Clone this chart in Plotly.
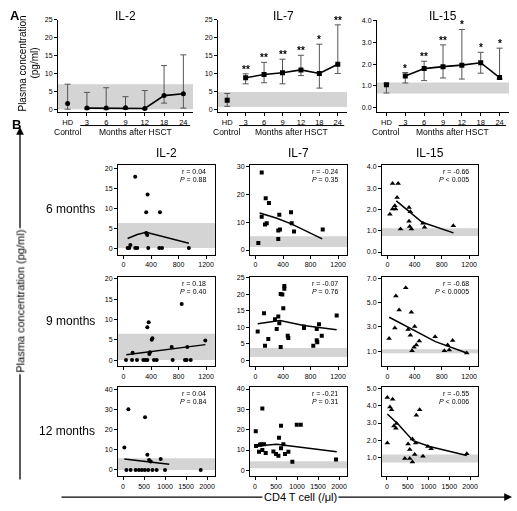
import plotly.graph_objects as go

W, H = 517, 511
FONT = "Arial, Liberation Sans, Helvetica, sans-serif"

# ---------------- Panel A data ----------------
A_LABELS = ["HD", "3", "6", "9", "12", "18", "24"]
IL2_A_MEAN = [1.6, 0.3, 0.3, 0.4, 0.2, 3.8, 4.3]
IL2_A_HI = [7.0, 4.7, 6.0, 3.5, 5.2, 12.2, 15.2]
IL2_A_LO = [0.0, 0.0, 0.0, 0.0, 0.0, 1.7, 0.3]
IL7_A_MEAN = [2.5, 8.8, 9.7, 10.2, 11.0, 10.0, 12.6]
IL7_A_HI = [4.4, 9.9, 13.1, 14.0, 15.1, 18.2, 23.6]
IL7_A_LO = [0.8, 7.1, 7.4, 7.1, 9.4, 5.9, 10.0]
IL15_A_MEAN = [1.05, 1.45, 1.79, 1.88, 1.95, 2.06, 1.38]
IL15_A_HI = [1.10, 1.61, 2.13, 2.88, 3.59, 2.54, 2.73]
IL15_A_LO = [0.67, 1.13, 1.24, 1.36, 1.31, 1.58, 1.31]
IL2_A_STARS = ["", "", "", "", "", "", ""]
IL7_A_STARS = ["", "**", "**", "**", "**", "*", "**"]
IL15_A_STARS = ["", "*", "**", "**", "*", "*", "*"]
IL2_A_BAND = [0, 7.0]
IL7_A_BAND = [0.6, 4.8]
IL15_A_BAND = [0.65, 1.15]

# ---------------- Panel B data ----------------
IL2_6_X = [170, 350, 330, 530, 60, 85, 100, 170, 200, 360, 520, 560, 950, 330, 345]
IL2_6_Y = [18, 13.5, 9, 9, 0, 0, 0.8, 0, 0, 0, 0, 0, 0, 3.8, 3.3]
IL2_6_FIT_X = [60, 200, 330, 950]
IL2_6_FIT_Y = [2.4, 3.4, 4.0, 1.2]

IL2_9_X = [846, 366, 346, 420, 410, 1189, 385, 375, 700, 927, 133,
           36, 124, 196, 288, 317, 346, 443, 482, 715, 894, 918, 977]
IL2_9_Y = [13.8, 9.3, 8.1, 5.4, 5.0, 4.8, 1.95, 1.5, 3.2, 3.2, 1.8,
           0, 0, 0, 0, 0, 0, 0, 0, 0, 0, 0, 0]
IL2_9_FIT_X = [40, 1190]
IL2_9_FIT_Y = [1.3, 3.8]

IL2_12_X = [127, 524, 31, 579, 897, 620, 660,
            80, 180, 300, 380, 450, 520, 600, 700, 800, 1000, 1850]
IL2_12_Y = [30.3, 26.4, 11.2, 7.6, 5.5, 5.0, 4.2,
            0, 0, 0, 0, 0, 0, 0, 0, 0, 0, 0]
IL2_12_FIT_X = [30, 1100]
IL2_12_FIT_Y = [5.5, 2.8]

IL7_6_X = [90, 148, 196, 516, 346, 90, 138, 163, 331, 356, 331, 526, 560, 41, 977]
IL7_6_Y = [27.9, 18.6, 16.9, 13.6, 12.7, 12.0, 9.2, 9.6, 7.0, 7.4, 4.0, 9.6, 6.7, 2.5, 7.4]
IL7_6_FIT_X = [60, 300, 520, 970]
IL7_6_FIT_Y = [13.3, 11.5, 9.4, 4.0]

IL7_9_X = [419, 419, 366, 390, 404, 124, 331, 283, 346, 1180, 923, 705, 705, 890,
           32, 308, 468, 477, 186, 963, 890, 138, 366, 840, 898]
IL7_9_Y = [22.4, 21.6, 20.0, 19.9, 15.7, 14.2, 13.2, 12.4, 11.2, 13.5, 10.9, 10.2, 9.7, 9.4,
           8.7, 9.4, 7.4, 6.7, 6.4, 7.4, 6.0, 4.4, 4.0, 4.4, 5.4]
IL7_9_FIT_X = [32, 356, 700, 1180]
IL7_9_FIT_Y = [11.0, 12.0, 10.5, 9.2]

IL7_12_X = [174, 619, 993, 1088, 17, 571, 24, 119, 148, 214, 675,
            95, 174, 254, 437, 500, 556, 619, 714, 794, 889, 1929]
IL7_12_Y = [30.4, 22.0, 22.4, 22.4, 19.2, 16.0, 12.0, 12.6, 12.9, 12.8, 12.8,
            9.1, 10.0, 8.5, 9.3, 8.0, 7.2, 10.9, 8.0, 9.1, 4.3, 5.3]
IL7_12_FIT_X = [17, 516, 1945]
IL7_12_FIT_Y = [12.0, 12.8, 9.1]

IL15_6_X = [75, 157, 142, 109, 75, 120, 317, 337, 36, 317, 327, 192, 352, 521, 545, 967]
IL15_6_Y = [3.22, 3.22, 2.56, 2.17, 2.02, 2.02, 2.09, 1.89, 1.78, 1.44, 1.2, 1.08, 1.08, 1.35, 1.16, 1.24]
IL15_6_FIT_X = [130, 510, 970]
IL15_6_FIT_Y = [2.4, 1.4, 0.9]

IL15_9_X = [269, 124, 172, 351, 109, 303, 400, 337, 24, 700, 467, 957, 884, 424, 390, 361, 836, 908, 1165]
IL15_9_Y = [6.2, 5.53, 4.39, 4.2, 2.92, 2.79, 3.05, 2.33, 2.07, 2.2, 1.85, 1.9, 1.53, 1.53, 1.35, 1.05, 1.05, 1.13, 0.87]
IL15_9_FIT_X = [26, 327, 705, 1165]
IL15_9_FIT_Y = [3.8, 2.92, 1.8, 0.87]

IL15_12_X = [8, 135, 71, 111, 786, 706, 230, 167, 214, 611, 8, 508, 690, 984, 1063, 548, 667, 865, 429, 548, 611, 1921]
IL15_12_Y = [4.49, 4.39, 3.93, 3.78, 3.78, 3.46, 2.98, 2.83, 2.69, 2.07, 1.84, 1.78, 1.84, 1.63, 1.5, 1.46, 1.17, 1.07, 0.93, 0.93, 0.73, 1.21]
IL15_12_FIT_X = [8, 270, 627, 1024, 1921]
IL15_12_FIT_Y = [3.53, 2.93, 1.97, 1.63, 1.11]

R_VALUES = [["0.04", "0.18", "0.04"], ["-0.24", "-0.07", "-0.21"], ["-0.66", "-0.68", "-0.55"]]
P_VALUES = [["= 0.88", "= 0.40", "= 0.84"], ["= 0.35", "= 0.76", "= 0.31"],
            ["< 0.005", "< 0.0005", "< 0.006"]]
ROW_LABELS = ["6 months", "9 months", "12 months"]
CYTOKINES = ["IL-2", "IL-7", "IL-15"]


def px(x):
    return x / W


def py(y):
    return 1 - y / H


fig = go.Figure()
layout = {}
shapes = []
annotations = []
counter = [0]

AX = dict(showline=True, linecolor="black", linewidth=1, ticks="outside", ticklen=3,
          tickwidth=1, tickcolor="black", showgrid=False, zeroline=False,
          tickfont=dict(size=7, family=FONT, color="black"))


def add_axes(x0, x1, y0, y1, xcfg, ycfg):
    counter[0] += 1
    n = counter[0]
    s = "" if n == 1 else str(n)
    xc = dict(AX); xc.update(xcfg)
    yc = dict(AX); yc.update(ycfg)
    layout["xaxis" + s] = dict(domain=[px(x0), px(x1)], anchor="y" + s, **xc)
    layout["yaxis" + s] = dict(domain=[py(y1), py(y0)], anchor="x" + s, **yc)
    return "x" + s, "y" + s


def band(xa, ya, lo, hi):
    shapes.append(dict(type="rect", xref=xa + " domain", x0=0, x1=1, yref=ya, y0=lo, y1=hi,
                       fillcolor="#d4d4d4", line=dict(width=0), layer="below"))


def text(x, y, t, size=11, xanchor="center", yanchor="middle", angle=0, bg=None, xref="paper", yref="paper", **kw):
    a = dict(x=x, y=y, xref=xref, yref=yref, text=t, showarrow=False, xanchor=xanchor, yanchor=yanchor,
             textangle=angle, font=dict(size=size, family=FONT, color="#000000"))
    if bg:
        a["bgcolor"] = bg
    a.update(kw)
    annotations.append(a)


# ---------------- Panel A ----------------
A_SPECS = [
    (58, 193, [-0.83, 25.0], [0, 5, 10, 15, 20, 25], None, IL2_A_MEAN, IL2_A_HI, IL2_A_LO, IL2_A_STARS, IL2_A_BAND, "circle", 125),
    (218, 347, [-0.83, 25.0], [0, 5, 10, 15, 20, 25], None, IL7_A_MEAN, IL7_A_HI, IL7_A_LO, IL7_A_STARS, IL7_A_BAND, "square", 283),
    (377, 509, [-0.21, 4.03], [0, 1, 2, 3, 4], ".1f", IL15_A_MEAN, IL15_A_HI, IL15_A_LO, IL15_A_STARS, IL15_A_BAND, "square", 443),
]
for i, (x0, x1, yr, yt, fmt, mean, hi, lo, stars, bnd, sym, tx) in enumerate(A_SPECS):
    ycfg = dict(range=yr, tickvals=yt)
    if fmt:
        ycfg["tickformat"] = fmt
    xa, ya = add_axes(x0, x1, 16, 109,
                      dict(range=[-0.5, 6.5], tickvals=list(range(7)), ticktext=A_LABELS,
                           tickfont=dict(size=7.5, family=FONT, color="black")),
                      ycfg)
    band(xa, ya, bnd[0], bnd[1])
    pos = list(range(7))
    up = [h - m for h, m in zip(hi, mean)]
    dn = [m - l for m, l in zip(mean, lo)]
    eb = dict(type="data", symmetric=False, color="#555555", thickness=1, width=3)
    fig.add_trace(go.Scatter(x=pos[:1], y=mean[:1], mode="markers",
                             marker=dict(symbol=sym, size=5, color="black"),
                             error_y=dict(eb, array=up[:1], arrayminus=dn[:1]),
                             xaxis=xa, yaxis=ya, showlegend=False))
    fig.add_trace(go.Scatter(x=pos[1:], y=mean[1:], mode="lines+markers",
                             line=dict(color="black", width=1.6),
                             marker=dict(symbol=sym, size=5, color="black"),
                             error_y=dict(eb, array=up[1:], arrayminus=dn[1:]),
                             xaxis=xa, yaxis=ya, showlegend=False))
    for p, s, h in zip(pos, stars, hi):
        if s:
            text(p, h, "<b>" + s + "</b>", size=10, xref=xa, yref=ya, yanchor="bottom", yshift=-3)
    text(px(tx), py(12), CYTOKINES[i], size=12)
    text(0, py(129), "Control", size=8.5, xref=xa)
    text(3.5, py(129), "Months after HSCT", size=8.5, xref=xa)
    shapes.append(dict(type="line", xref=xa, yref="paper", x0=0.65, x1=6.35, y0=py(122.5), y1=py(122.5),
                       line=dict(color="black", width=1)))

text(px(8), py(12), "<b>A</b>", size=13, xanchor="left")
text(px(23), py(60), "Plasma concentration", size=10, angle=-90)
text(px(35), py(60), "(pg/ml)", size=10, angle=-90)

# ---------------- Panel B ----------------
ROWS = [(162, 253), (275, 365), (386, 476)]
COLS = [(118, 215), (250, 347), (382, 478)]
XR12 = dict(range=[-80, 1330], tickvals=[0, 400, 800, 1200])
XR3 = dict(range=[-120, 2190], tickvals=[0, 500, 1000, 1500, 2000])

B_DATA = [
    [(IL2_6_X, IL2_6_Y, IL2_6_FIT_X, IL2_6_FIT_Y),
     (IL2_9_X, IL2_9_Y, IL2_9_FIT_X, IL2_9_FIT_Y),
     (IL2_12_X, IL2_12_Y, IL2_12_FIT_X, IL2_12_FIT_Y)],
    [(IL7_6_X, IL7_6_Y, IL7_6_FIT_X, IL7_6_FIT_Y),
     (IL7_9_X, IL7_9_Y, IL7_9_FIT_X, IL7_9_FIT_Y),
     (IL7_12_X, IL7_12_Y, IL7_12_FIT_X, IL7_12_FIT_Y)],
    [(IL15_6_X, IL15_6_Y, IL15_6_FIT_X, IL15_6_FIT_Y),
     (IL15_9_X, IL15_9_Y, IL15_9_FIT_X, IL15_9_FIT_Y),
     (IL15_12_X, IL15_12_Y, IL15_12_FIT_X, IL15_12_FIT_Y)],
]
Y_SPECS = [
    [([-1.75, 21], [0, 5, 10, 15, 20], None, [0, 6.3]),
     ([-1.5, 20.5], [0, 5, 10, 15, 20], None, [0, 6.5]),
     ([-3.2, 41.5], [0, 10, 20, 30, 40], None, [0, 5.8])],
    [([-1.8, 30.7], [0, 10, 20, 30], None, [1.1, 5.0]),
     ([-1.8, 25.2], [0, 5, 10, 15, 20, 25], None, [1.0, 3.7]),
     ([-2.9, 41.0], [0, 10, 20, 30, 40], None, [1.0, 4.5])],
    [([-0.14, 4.1], [0, 1, 2, 3, 4], ".1f", [0.75, 1.12]),
     ([-0.2, 7.1], [1, 3, 5, 7], ".1f", [0.86, 1.18]),
     ([-0.1, 5.1], [1, 2, 3, 4, 5], ".1f", [0.7, 1.17])],
]
SYMS = ["circle", "square", "triangle-up"]
SIZES = [4, 4, 5]

for c, (cx0, cx1) in enumerate(COLS):
    text(px((cx0 + cx1) / 2), py(150), CYTOKINES[c], size=12)
    for r, (ry0, ry1) in enumerate(ROWS):
        yr, yt, fmt, bnd = Y_SPECS[c][r]
        ycfg = dict(range=yr, tickvals=yt, mirror=True)
        if fmt:
            ycfg["tickformat"] = fmt
        xcfg = dict(XR3 if r == 2 else XR12, mirror=True)
        xa, ya = add_axes(cx0, cx1, ry0, ry1, xcfg, ycfg)
        band(xa, ya, bnd[0], bnd[1])
        xs, ys, fx, fy = B_DATA[c][r]
        fig.add_trace(go.Scatter(x=xs, y=ys, mode="markers",
                                 marker=dict(symbol=SYMS[c], size=SIZES[c], color="black"),
                                 xaxis=xa, yaxis=ya, showlegend=False))
        fig.add_trace(go.Scatter(x=fx, y=fy, mode="lines", line=dict(color="black", width=1.5),
                                 xaxis=xa, yaxis=ya, showlegend=False))
        text(px(cx1 - 7), py(ry0 + 7), "r = " + R_VALUES[c][r], size=7, xanchor="right")
        text(px(cx1 - 7), py(ry0 + 15), "<i>P</i> " + P_VALUES[c][r], size=7, xanchor="right")

for r, (ry0, ry1) in enumerate(ROWS):
    text(px(97), py((ry0 + ry1) / 2 - 1), ROW_LABELS[r], size=12, xanchor="right")

text(px(10), py(121), "<b>B</b>", size=13, xanchor="left")

# arrows
annotations.append(dict(x=px(20), y=py(124), xref="paper", yref="paper", ax=0, ay=354,
                        text="", showarrow=True, arrowhead=2,
                        arrowsize=1.2, arrowwidth=1.3, arrowcolor="black"))
text(px(20), py(300), "Plasma concentration (pg/ml)", size=11, angle=-90, bg="white")
annotations.append(dict(x=px(512), y=py(497), xref="paper", yref="paper", ax=-452, ay=0,
                        text="", showarrow=True, arrowhead=2, arrowsize=1.2, arrowwidth=1.3,
                        arrowcolor="black"))
text(px(300), py(497), "CD4 T cell (/μl)", size=11, bg="white")

layout.update(dict(width=W, height=H, margin=dict(l=0, r=0, t=0, b=0),
                   paper_bgcolor="white", plot_bgcolor="white", showlegend=False,
                   font=dict(family=FONT, color="black"),
                   shapes=shapes, annotations=annotations))
fig.update_layout(**layout)
fig.write_html("out.html", config={"displayModeBar": False},
               post_script="document.body.style.margin='0px';"
                           "document.querySelectorAll('svg').forEach(function(s){s.style.opacity='0.999';});")
